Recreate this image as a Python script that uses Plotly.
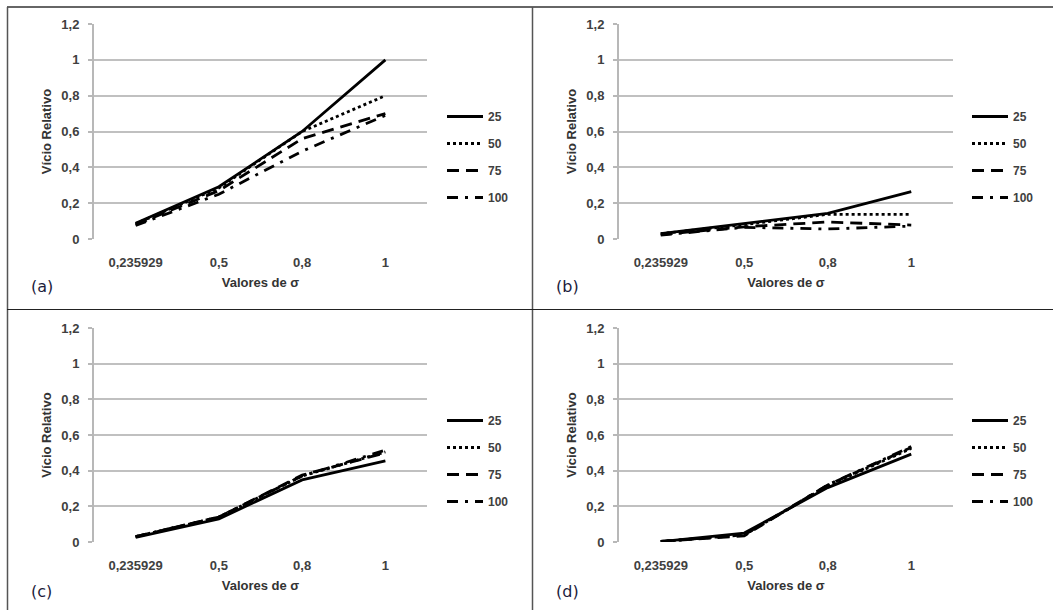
import plotly.graph_objects as go

W, H = 1053, 610

categories = ["0,235929", "0,5", "0,8", "1"]
series_names = ["25", "50", "75", "100"]

a_25 = [0.088, 0.292, 0.60, 1.00]
a_50 = [0.085, 0.285, 0.60, 0.80]
a_75 = [0.080, 0.270, 0.56, 0.70]
a_100 = [0.075, 0.250, 0.49, 0.69]

b_25 = [0.030, 0.088, 0.143, 0.264]
b_50 = [0.030, 0.080, 0.138, 0.138]
b_75 = [0.025, 0.068, 0.095, 0.078]
b_100 = [0.022, 0.065, 0.056, 0.072]

c_25 = [0.026, 0.130, 0.348, 0.455]
c_50 = [0.030, 0.140, 0.370, 0.505]
c_75 = [0.030, 0.140, 0.375, 0.500]
c_100 = [0.030, 0.140, 0.370, 0.515]

d_25 = [0.002, 0.050, 0.305, 0.493]
d_50 = [0.003, 0.040, 0.315, 0.525]
d_75 = [0.003, 0.035, 0.320, 0.530]
d_100 = [0.003, 0.040, 0.320, 0.535]

panels = [
    ("(a)", [a_25, a_50, a_75, a_100]),
    ("(b)", [b_25, b_50, b_75, b_100]),
    ("(c)", [c_25, c_50, c_75, c_100]),
    ("(d)", [d_25, d_50, d_75, d_100]),
]

dashes = ["solid", "dot", "12px,7px", "11px,7px,3px,7px"]

boxes = [(94, 427, 24, 239), (619, 953, 24, 239), (94, 427, 328, 542), (619, 953, 328, 542)]
offsets = [(0, 0), (525, 0), (0, 304), (525, 304)]

fig = go.Figure()
layout = dict(
    width=W, height=H, margin=dict(l=0, r=0, t=0, b=0, autoexpand=False),
    paper_bgcolor="white", plot_bgcolor="white", separators=",.",
    showlegend=True,
)

tickfont = dict(family="Liberation Sans", size=13, color="#404040", weight="bold")
titlefont = dict(family="Liberation Sans", size=13, color="#333333")

shapes = []
annotations = []
for i, (label, series) in enumerate(panels):
    n = "" if i == 0 else str(i + 1)
    x0, x1, yt, yb = boxes[i]
    ox, oy = offsets[i]
    leg = "legend" + n
    for name, vals, dsh in zip(series_names, series, dashes):
        fig.add_trace(go.Scatter(
            x=categories, y=vals, name=name, mode="lines",
            line=dict(color="black", width=2.8, dash=dsh),
            xaxis="x" + n, yaxis="y" + n, legend=leg,
            legendgroup=leg + name,
        ))
    layout["xaxis" + n] = dict(
        domain=[x0 / W, x1 / W], anchor="y" + n, type="category",
        range=[-0.5, 3.5], showgrid=False, showline=False, zeroline=False,
        ticks="", tickfont=tickfont, ticklabelstandoff=14, automargin=False,
        title=dict(text="<b>Valores de σ</b>", font=titlefont, standoff=8),
    )
    layout["yaxis" + n] = dict(
        domain=[1 - yb / H, 1 - yt / H], anchor="x" + n,
        range=[0, 1.2], dtick=0.2, tick0=0, automargin=False,
        showgrid=True, gridcolor="#c0c0c0", gridwidth=1.5,
        showline=True, linecolor="#b8b8b8", linewidth=2,
        zeroline=False, ticks="outside", ticklen=4, tickcolor="#b8b8b8", tickwidth=1.5,
        tickfont=tickfont, ticklabelstandoff=6,
        title=dict(text="<b>Vício Relativo</b>", font=titlefont, standoff=7),
    )
    layout[leg] = dict(
        x=(442 + ox) / W, xanchor="left", y=1 - (102 + oy) / H, yanchor="top",
        bgcolor="rgba(0,0,0,0)", borderwidth=0,
        font=dict(family="Liberation Sans", size=12, color="#404040", weight="bold"),
        traceorder="grouped", tracegroupgap=8, itemwidth=36,
    )
    annotations.append(dict(
        text=label, xref="paper", yref="paper", x=(29 + ox) / W, y=1 - (287 + oy) / H,
        xanchor="left", yanchor="middle", showarrow=False,
        font=dict(family="DejaVu Sans", size=16, color="#1c1c3c"),
    ))

shapes += [
    dict(type="line", xref="paper", yref="paper", x0=7 / W, x1=1, y0=1 - 7 / H, y1=1 - 7 / H,
         line=dict(color="#333333", width=1.5)),
    dict(type="line", xref="paper", yref="paper", x0=7.5 / W, x1=7.5 / W, y0=0, y1=1 - 7 / H,
         line=dict(color="#555555", width=1.5)),
    dict(type="line", xref="paper", yref="paper", x0=532.5 / W, x1=532.5 / W, y0=0, y1=1 - 7 / H,
         line=dict(color="#555555", width=1.5)),
    dict(type="line", xref="paper", yref="paper", x0=7 / W, x1=1, y0=1 - 309.5 / H, y1=1 - 309.5 / H,
         line=dict(color="#222222", width=1.2)),
]
layout["shapes"] = shapes
layout["annotations"] = annotations
fig.update_layout(**layout)
fig.write_html("out.html")
